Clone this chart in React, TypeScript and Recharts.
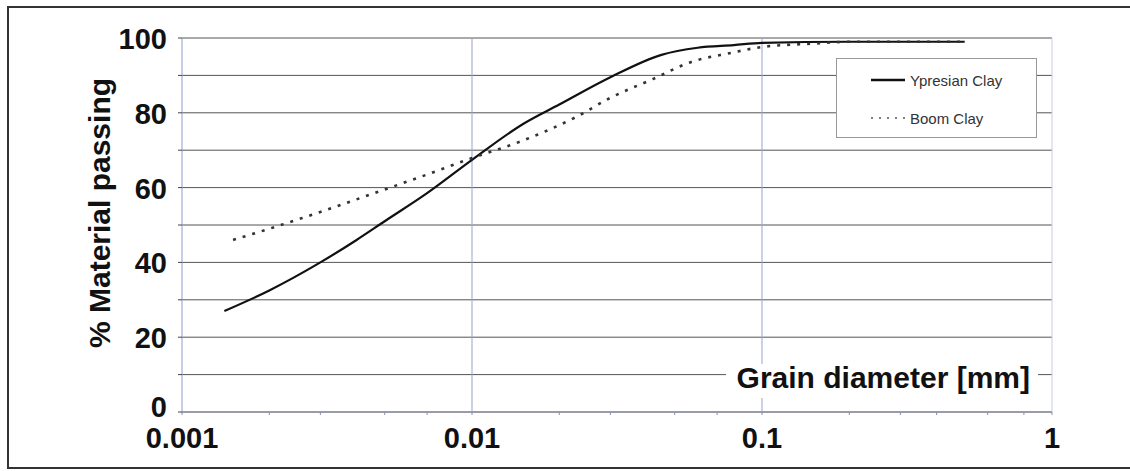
import { LineChart, Line, XAxis, YAxis, CartesianGrid, ReferenceLine, Legend } from 'recharts'

// grain size distribution
const ypresianDiameter = [0.0014, 0.002, 0.003, 0.004, 0.005, 0.007, 0.01, 0.015, 0.02, 0.03, 0.045, 0.06, 0.08, 0.1, 0.2, 0.5]
const ypresianPassing = [27, 32.5, 40, 46, 51, 58.5, 67.4, 77, 82.2, 89.5, 95.5, 97.4, 98.1, 98.7, 99, 99]

const boomDiameter = [0.0015, 0.002, 0.003, 0.005, 0.007, 0.01, 0.015, 0.023, 0.03, 0.042, 0.057, 0.078, 0.1, 0.15, 0.2, 0.5]
const boomPassing = [46, 49, 53.5, 59.5, 63.5, 67.9, 72.6, 79, 84, 89, 93.6, 96, 97.6, 98.5, 99, 99]

const seriesNames = ['Ypresian Clay', 'Boom Clay']

const xTicks = [
  0.001, 0.002, 0.003, 0.004, 0.005, 0.006, 0.007, 0.008, 0.009,
  0.01, 0.02, 0.03, 0.04, 0.05, 0.06, 0.07, 0.08, 0.09,
  0.1, 0.2, 0.3, 0.4, 0.5, 0.6, 0.7, 0.8, 0.9, 1,
]
const decadeValues = [0.001, 0.01, 0.1, 1]
const decadeLabels = ['0.001', '0.01', '0.1', '1']
const yTicks = [0, 10, 20, 30, 40, 50, 60, 70, 80, 90, 100]
const yLabelValues = [0, 20, 40, 60, 80, 100]

const ypresianData = ypresianDiameter.map((d, i) => ({ diameter: d, passing: ypresianPassing[i] }))
const boomData = boomDiameter.map((d, i) => ({ diameter: d, passing: boomPassing[i] }))

const font = "'Liberation Sans', Arial, sans-serif"

function DiameterTick(props: any) {
  const { x, y, payload } = props
  const idx = decadeValues.indexOf(payload.value)
  if (idx < 0) return null
  return (
    <text x={x} y={y} dy={31} textAnchor='middle' fontFamily={font} fontWeight='bold' fontSize={29} fill='#111'>
      {decadeLabels[idx]}
    </text>
  )
}

function PassingTick(props: any) {
  const { x, y, payload } = props
  if (!yLabelValues.includes(payload.value)) return null
  // the zero label sits a bit above its gridline in the original
  const shift = payload.value === 0 ? -5 : 1
  return (
    <text x={x} y={y + shift} dy={10} textAnchor='end' fontFamily={font} fontWeight='bold' fontSize={29} fill='#111'>
      {payload.value}
    </text>
  )
}

function AxisTitle(props: any) {
  const { viewBox } = props
  const right = viewBox.x + viewBox.width
  const bottom = viewBox.y
  return (
    <g>
      <rect x={right - 326} y={bottom - 48} width={312} height={34} fill='#fff' />
      <text x={right - 22} y={bottom - 24} textAnchor='end' fontFamily={font} fontWeight='bold' fontSize={30} fill='#111'>
        Grain diameter [mm]
      </text>
    </g>
  )
}

function YTitle() {
  return (
    <text
      x={110}
      y={213}
      transform='rotate(-90, 110, 213)'
      textAnchor='middle'
      fontFamily={font}
      fontWeight='bold'
      fontSize={30}
      fill='#111'
    >
      % Material passing
    </text>
  )
}

function LegendBox() {
  return (
    <div style={{ fontFamily: font, fontSize: 15, color: '#333', paddingTop: 2 }}>
      {seriesNames.map((name, i) => (
        <div key={name} style={{ display: 'flex', alignItems: 'center', height: 38, paddingLeft: 34 }}>
          <svg width={36} height={10} style={{ marginRight: 3 }}>
            <line
              x1={0}
              y1={5}
              x2={34}
              y2={5}
              stroke={i === 0 ? '#111' : '#555'}
              strokeWidth={i === 0 ? 2.5 : 1.6}
              strokeDasharray={i === 0 ? undefined : '2 6'}
            />
          </svg>
          <span>{name}</span>
        </div>
      ))}
    </div>
  )
}

export default function App() {
  return (
    <div style={{ position: 'relative', width: 1130, height: 471 }}>
      <style>{'body{margin:0;overflow:hidden;background:#fff}'}</style>
      <div
        style={{
          position: 'absolute',
          left: 7,
          top: 6,
          width: 1130,
          height: 463,
          boxSizing: 'border-box',
          borderLeft: '2px solid #333',
          borderTop: '2px solid #333',
          borderBottom: '2px solid #333',
        }}
      />
      <div style={{ position: 'absolute', left: 0, top: 0 }}>
        <LineChart width={1130} height={471} margin={{ top: 38, right: 78, bottom: 19, left: 0 }}>
          <CartesianGrid vertical={false} stroke='#555' />
          <XAxis
            dataKey='diameter'
            type='number'
            scale='log'
            domain={[0.001, 1]}
            ticks={xTicks}
            allowDataOverflow
            height={40}
            tick={<DiameterTick />}
            tickSize={3}
            tickMargin={2}
            stroke='#8a8fa8'
            label={<AxisTitle />}
          />
          <YAxis
            type='number'
            domain={[0, 100]}
            ticks={yTicks}
            width={182}
            tickSize={4}
            tickMargin={11}
            interval={0}
            tick={<PassingTick />}
            axisLine={{ stroke: '#8f9ad0' }}
            tickLine={{ stroke: '#444' }}
          />
          <ReferenceLine x={0.01} stroke='#9aa3d0' />
          <ReferenceLine x={0.1} stroke='#9aa3d0' />
          <ReferenceLine x={1} stroke='#c8cce0' />
          <Legend
            layout='horizontal'
            align='center'
            verticalAlign='middle'
            content={<LegendBox />}
            wrapperStyle={{
              left: 836,
              top: 58,
              width: 201,
              height: 80,
              background: '#fff',
              border: '1px solid #999',
              boxSizing: 'border-box',
            }}
          />
          <Line
            data={ypresianData}
            dataKey='passing'
            name={seriesNames[0]}
            type='monotone'
            stroke='#111'
            strokeWidth={2.2}
            dot={false}
            isAnimationActive={false}
          />
          <Line
            data={boomData}
            dataKey='passing'
            name={seriesNames[1]}
            type='monotone'
            stroke='#333'
            strokeWidth={2.6}
            strokeDasharray='3 7'
            dot={false}
            isAnimationActive={false}
          />
        </LineChart>
      </div>
      <svg width={1130} height={471} style={{ position: 'absolute', left: 0, top: 0, pointerEvents: 'none' }}>
        <YTitle />
      </svg>
    </div>
  )
}
